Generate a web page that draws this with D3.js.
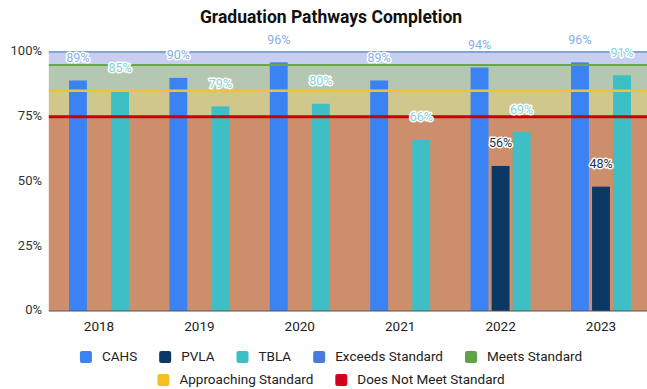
<!DOCTYPE html>
<html>
<head>
<meta charset="utf-8">
<script src="https://cdn.jsdelivr.net/npm/d3@7"></script>
<style>
  html, body { margin: 0; padding: 0; background: #fff; }
  svg { display: block; font-family: Roboto, "Noto Sans", sans-serif; }
</style>
</head>
<body>
<svg id="chart" width="647" height="389"></svg>
<script>
// Graduation pathway completion rates by school and year
const years = ["2018", "2019", "2020", "2021", "2022", "2023"];
const seriesNames = ["CAHS", "PVLA", "TBLA"];
const cahs = [89, 90, 96, 89, 94, 96];
const pvla = [null, null, null, null, 56, 48];
const tbla = [85, 79, 80, 66, 69, 91];
const seriesColors = ["#3b83f3", "#0b3864", "#3ebfc6"];
const labelColors = ["#86aeec", "#17324f", "#86d2d6"];

// Performance standard thresholds (upper edge of each band)
const standardNames = ["Exceeds Standard", "Meets Standard", "Approaching Standard", "Does Not Meet Standard"];
const standardTops = [100, 95, 85, 75];
const standardBottoms = [95, 85, 75, 0];
const bandFills = ["#c7cff1", "#b5c7b0", "#d0c78d", "#cd8e6c"];
const lineColors = ["#86a3d6", "#6aa84f", "#f1c232", "#cc0000"];
const lineWidths = [2, 2, 2.5, 3];
const legendColors = ["#4a7bdb", "#5ea34a", "#f5bf28", "#d2001c"];

const yTicks = [0, 25, 50, 75, 100];

const svg = d3.select("#chart");
const plotLeft = 48.8, plotRight = 651.2, plotTop = 52, plotBottom = 311;

const x0 = d3.scaleBand().domain(years).range([plotLeft, plotRight]);
const x1 = d3.scaleBand().domain(seriesNames)
  .range([x0.bandwidth() / 2 - 30, x0.bandwidth() / 2 + 30])
  .paddingInner(0.15);
const y = d3.scaleLinear().domain([0, 100]).range([plotBottom, plotTop]);

// Title
svg.append("text")
  .attr("x", 331).attr("y", 18)
  .attr("text-anchor", "middle").attr("dominant-baseline", "middle")
  .attr("font-size", 17.5).attr("font-weight", 700).attr("fill", "#111")
  .text("Graduation Pathways Completion");

// Standard bands
const bands = standardNames.map((n, i) => ({ name: n, top: standardTops[i], bottom: standardBottoms[i], fill: bandFills[i], line: lineColors[i], lw: lineWidths[i] }));
svg.append("g").selectAll("rect").data(bands).join("rect")
  .attr("x", plotLeft).attr("width", plotRight - plotLeft)
  .attr("y", d => y(d.top)).attr("height", d => y(d.bottom) - y(d.top))
  .attr("fill", d => d.fill);

// Bars
const rows = years.map((yr, i) => ({ year: yr, values: [cahs[i], pvla[i], tbla[i]] }));
const barG = svg.append("g");
rows.forEach(r => {
  r.values.forEach((v, j) => {
    if (v == null) return;
    barG.append("rect")
      .attr("x", x0(r.year) + x1(seriesNames[j]))
      .attr("width", x1.bandwidth())
      .attr("y", y(v))
      .attr("height", y(0) - y(v))
      .attr("fill", seriesColors[j]);
  });
});

// Threshold lines
svg.append("g").selectAll("line").data(bands).join("line")
  .attr("x1", plotLeft).attr("x2", plotRight)
  .attr("y1", d => y(d.top)).attr("y2", d => y(d.top))
  .attr("stroke", d => d.line).attr("stroke-width", d => d.lw);

// Baseline
svg.append("line")
  .attr("x1", plotLeft).attr("x2", plotRight)
  .attr("y1", y(0)).attr("y2", y(0))
  .attr("stroke", "#555").attr("stroke-width", 1);

// Value labels
const labelG = svg.append("g");
rows.forEach(r => {
  r.values.forEach((v, j) => {
    if (v == null) return;
    labelG.append("text")
      .attr("x", x0(r.year) + x1(seriesNames[j]) + x1.bandwidth() / 2)
      .attr("y", y(v) - 22)
      .attr("text-anchor", "middle").attr("dominant-baseline", "middle")
      .attr("font-size", 12.5)
      .attr("fill", labelColors[j])
      .attr("stroke", "#fff").attr("stroke-width", 3).attr("stroke-linejoin", "round")
      .attr("paint-order", "stroke")
      .text(v + "%");
  });
});

// Y axis labels
svg.append("g").selectAll("text").data(yTicks).join("text")
  .attr("x", 42).attr("y", d => y(d))
  .attr("text-anchor", "end").attr("dominant-baseline", "middle")
  .attr("font-size", 13).attr("fill", "#333")
  .text(d => d + "%");

// X axis labels
svg.append("g").selectAll("text").data(years).join("text")
  .attr("x", d => x0(d) + x0.bandwidth() / 2).attr("y", 327)
  .attr("text-anchor", "middle").attr("dominant-baseline", "middle")
  .attr("font-size", 13.5).attr("fill", "#222")
  .text(d => d);

// Legend
const legendRows = [
  seriesNames.map((n, i) => ({ name: n, color: seriesColors[i] })).concat(
    standardNames.slice(0, 2).map((n, i) => ({ name: n, color: legendColors[i] }))),
  standardNames.slice(2).map((n, i) => ({ name: n, color: legendColors[i + 2] }))
];
const legendY = [357, 380];
const sw = 12, swGap = 10, itemGap = 22;
legendRows.forEach((items, ri) => {
  const g = svg.append("g");
  const groups = items.map(it => {
    const ig = g.append("g");
    ig.append("rect").attr("width", sw).attr("height", sw).attr("rx", 2)
      .attr("y", -sw / 2).attr("fill", it.color);
    const t = ig.append("text").attr("x", sw + swGap).attr("y", 0)
      .attr("dominant-baseline", "middle").attr("font-size", 13.5).attr("fill", "#222")
      .text(it.name);
    return { ig, w: sw + swGap + t.node().getComputedTextLength() };
  });
  const total = d3.sum(groups, d => d.w) + itemGap * (groups.length - 1);
  let cx = 331 - total / 2;
  groups.forEach(d => {
    d.ig.attr("transform", `translate(${cx},${legendY[ri]})`);
    cx += d.w + itemGap;
  });
});
</script>
</body>
</html>
